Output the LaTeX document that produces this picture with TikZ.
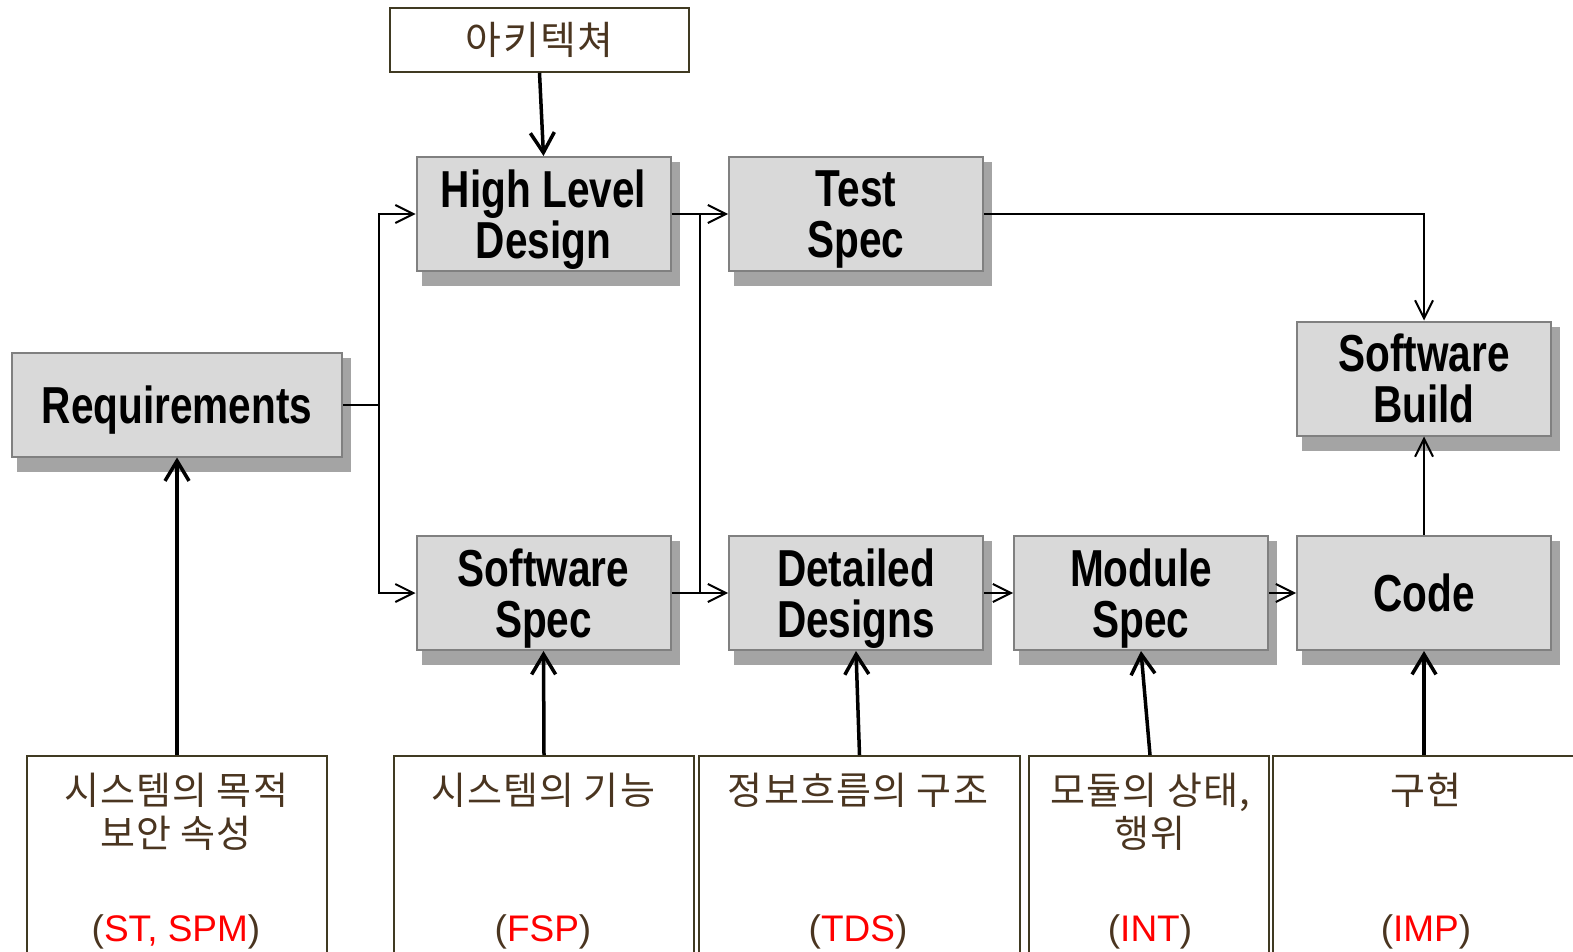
\documentclass[tikz,border=0pt]{standalone}
\usepackage{fontspec}
\usetikzlibrary{arrows.meta,calc,backgrounds}
\newfontfamily\boxfont[FakeStretch=0.78]{Liberation Sans}
\newfontfamily\krfont[LetterSpace=3]{Noto Sans CJK KR}
\newfontfamily\codefont{Liberation Sans}
\definecolor{krbrown}{HTML}{4A3520}
\definecolor{boxgray}{HTML}{D9D9D9}
\definecolor{boxedge}{HTML}{808080}
\definecolor{olivedge}{HTML}{403A22}
\definecolor{shadowgray}{HTML}{A4A4A4}
\definecolor{codered}{HTML}{FF0000}
\tikzset{
 proc/.style={draw=boxedge, line width=1pt, fill=boxgray, minimum width=127pt, minimum height=57pt, inner sep=0pt, text depth=-4pt, align=center, font=\boxfont\bfseries\fontsize{26}{25.5}\selectfont},
 srcbox/.style={draw=olivedge, line width=0.8pt, anchor=north, minimum height=130pt, inner sep=0pt},
 krtext/.style={font=\krfont\fontsize{19}{21.5}\selectfont, text=krbrown, anchor=base, inner sep=0pt},
 codetext/.style={font=\codefont\fontsize{18.5}{20}\selectfont, text=codered, anchor=base, inner sep=0pt},
 conn/.style={line width=1pt, -{Straight Barb[length=9pt,width=9pt]}},
 joinline/.style={line width=1pt},
 feedarrow/.style={line width=1.75pt, -{Straight Barb[length=10pt,width=12pt]}},
 dropshade/.style={fill=shadowgray},
}
\begin{document}
\begin{tikzpicture}[x=0.5pt,y=-0.5pt]
\useasboundingbox (0,0) rectangle (1573,952);
\clip (0,0) rectangle (1573,952);
% top architecture box
\node[draw=olivedge, line width=0.8pt, minimum width=149.5pt, minimum height=32pt, inner sep=0pt, font=\krfont\fontsize{19.5}{20}\selectfont, text=krbrown] (arch) at (539.5,40) {아키텍쳐};
% process boxes
\node[proc] (hld) at (543.5,214) {High Level\\Design};
\node[proc] (test) at (856,214) {Test\\Spec};
\node[proc, minimum width=165pt, minimum height=52pt] (req) at (177,404.5) {Requirements};
\node[proc] (sws) at (543.5,593) {Software\\Spec};
\node[proc] (dd) at (856,593) {Detailed\\Designs};
\node[proc] (ms) at (1141,593) {Module\\Spec};
\node[proc] (code) at (1424,593) {Code};
\node[proc] (build) at (1424,378.5) {Software\\Build};
% shadows
\begin{scope}[on background layer]
\foreach \n in {hld,test,req,sws,dd,ms,code,build}
  \fill[dropshade] ($(\n.north west)+(6,6)$) rectangle ($(\n.south east)+(8,14)$);
\end{scope}
% source boxes
\node[srcbox, minimum width=150pt] (b1) at (177,755) {};
\node[srcbox, minimum width=150pt] (b2) at (544,755) {};
\node[srcbox, minimum width=160.5pt] (b3) at (859.5,755) {};
\node[srcbox, minimum width=120pt] (b4) at (1149,755) {};
\node[srcbox, minimum width=163.5pt] (b5) at (1436.5,755) {};
% source texts
\node[krtext] (t1a) at (176,804) {시스템의 목적};
\node[krtext] (t1b) at (176,847) {보안 속성};
\node[codetext] (c1) at (176,941) {\textcolor{krbrown}{(}ST, SPM\textcolor{krbrown}{)}};
\node[krtext] (t2a) at (543,804) {시스템의 기능};
\node[codetext] (c2) at (543,941) {\textcolor{krbrown}{(}FSP\textcolor{krbrown}{)}};
\node[krtext] (t3a) at (858,804) {정보흐름의 구조};
\node[codetext] (c3) at (858,941) {\textcolor{krbrown}{(}TDS\textcolor{krbrown}{)}};
\node[krtext] (t4a) at (1150,804) {모듈의 상태,};
\node[krtext] (t4b) at (1150,847) {행위};
\node[codetext] (c4) at (1150,941) {\textcolor{krbrown}{(}INT\textcolor{krbrown}{)}};
\node[krtext] (t5a) at (1426,804) {구현};
\node[codetext] (c5) at (1426,941) {\textcolor{krbrown}{(}IMP\textcolor{krbrown}{)}};
% connectors
\draw[feedarrow] (arch.south) -- (hld.north);
\draw[conn] (req.east) -- ++(36,0) |- (hld.west);
\draw[conn] (req.east) -- ++(36,0) |- (sws.west);
\draw[conn] (hld.east) -- (test.west);
\draw[conn] (sws.east) -- (dd.west);
\draw[joinline] ($(hld.east)!0.5!(test.west)$) -- ($(sws.east)!0.5!(dd.west)$);
\draw[conn] (test.east) -| (build.north);
\draw[conn] (dd.east) -- (ms.west);
\draw[conn] (ms.east) -- (code.west);
\draw[conn] (code.north) -- (build.south);
\draw[feedarrow] (b1.north) -- (req.south);
\draw[feedarrow] (b2.north) -- (sws.south);
\draw[feedarrow] (b3.north) -- (dd.south);
\draw[feedarrow] ($(b4.north)+(1,0)$) -- (ms.south);
\draw[feedarrow] (code.south |- b5.north) -- (code.south);
\end{tikzpicture}
\end{document}
